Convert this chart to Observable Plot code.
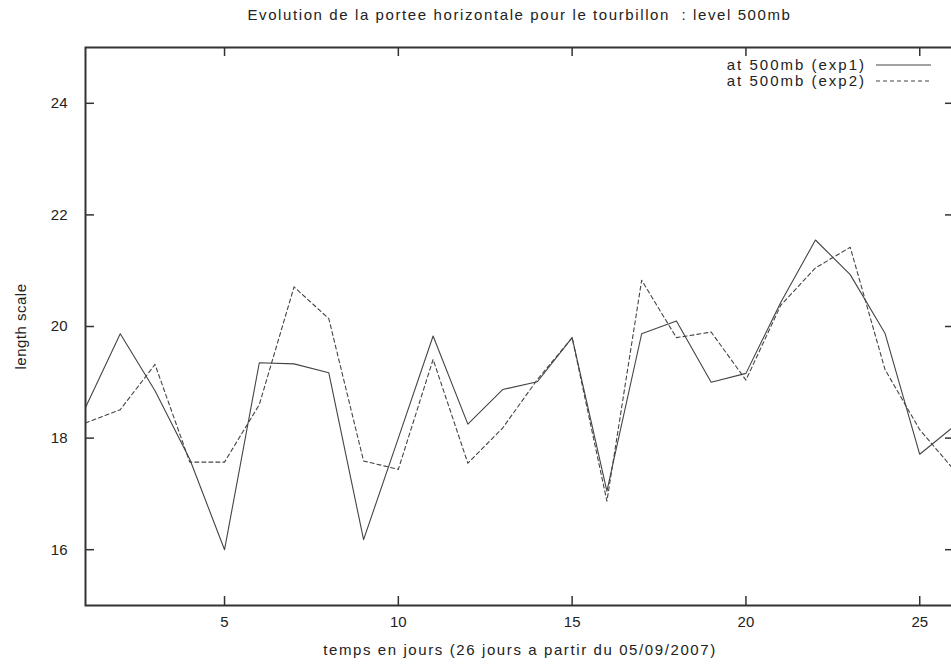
<!DOCTYPE html>
<html><head><meta charset="utf-8">
<script src="https://cdn.jsdelivr.net/npm/d3@7"></script>
<script src="https://cdn.jsdelivr.net/npm/@observablehq/plot@0.6"></script>
<style>
body{margin:0;background:#fff;overflow:hidden;font-family:"Liberation Sans",Arial,sans-serif;}
#wrap{position:relative;width:956px;height:666px;}
#title{box-sizing:border-box;width:956px;height:30px;line-height:30px;padding-left:85px;padding-right:2px;text-align:center;font-size:15px;letter-spacing:1.6px;color:#222;white-space:pre;}
#legend{position:absolute;left:0;top:0;width:956px;height:666px;pointer-events:none;}
.lg{position:absolute;font-size:15px;letter-spacing:2px;color:#222;white-space:nowrap;}
g[aria-label="x-axis label"] text{letter-spacing:1.6px;}
g[aria-label="y-axis label"] text{letter-spacing:0.5px;}
</style></head><body>
<div id="wrap">
<div id="title"></div>
<div id="chart"></div>
<div id="legend"></div>
</div>
<script>
const titleText = "Evolution de la portee horizontale pour le tourbillon  : level 500mb";
const xLabel = "temps en jours (26 jours a partir du 05/09/2007)";
const yLabel = "length scale";
const seriesNames = ["at 500mb (exp1)", "at 500mb (exp2)"];
const days = [1,2,3,4,5,6,7,8,9,10,11,12,13,14,15,16,17,18,19,20,21,22,23,24,25,26];
const exp1 = [18.55,19.87,18.85,17.62,16.0,19.35,19.33,19.17,16.18,18.0,19.83,18.25,18.87,19.01,19.80,17.05,19.87,20.1,19.0,19.16,20.43,21.55,20.93,19.88,17.71,18.22];
const exp2 = [18.27,18.51,19.32,17.57,17.57,18.6,20.71,20.14,17.59,17.44,19.41,17.55,18.18,19.05,19.80,16.87,20.83,19.80,19.90,19.04,20.38,21.05,21.42,19.23,18.15,17.42];
const xTicks = [5,10,15,20,25];
const yTicks = [16,18,20,22,24];

document.getElementById("title").textContent = titleText;

const rows = [];
days.forEach((d,i)=>{ rows.push({day:d, v:exp1[i], s:seriesNames[0]}); });
days.forEach((d,i)=>{ rows.push({day:d, v:exp2[i], s:seriesNames[1]}); });

const W = 956, H = 636, mL = 85, mR = 2, mT = 17, mB = 61;
const pw = W - mL - mR, ph = H - mT - mB, tk = 9;
const ink = "#333";

const chart = Plot.plot({
  width: W, height: H,
  marginLeft: mL, marginRight: mR, marginTop: mT, marginBottom: mB,
  style: {fontFamily: "'Liberation Sans', Arial, sans-serif", fontSize: "15px", color: "#222", background: "#fff"},
  x: {domain: [1, 26]},
  y: {domain: [15, 25]},
  marks: [
    Plot.axisX(xTicks, {tickSize: 0, tickPadding: 11, fontSize: 15, tickFormat: d => String(d), label: xLabel, labelAnchor: "center", labelOffset: 49, labelArrow: "none"}),
    Plot.axisY(yTicks, {tickSize: 0, tickPadding: 18, fontSize: 15, tickFormat: d => String(d), label: yLabel, labelAnchor: "center", labelOffset: 70, labelArrow: "none"}),
    Plot.tickX(xTicks, {x: d => d, insetTop: ph - tk, stroke: ink, strokeWidth: 1.5}),
    Plot.tickX(xTicks, {x: d => d, insetBottom: ph - tk, stroke: ink, strokeWidth: 1.5}),
    Plot.tickY(yTicks, {y: d => d, insetRight: pw - tk, stroke: ink, strokeWidth: 1.5}),
    Plot.tickY(yTicks, {y: d => d, insetLeft: pw - tk, stroke: ink, strokeWidth: 1.5}),
    Plot.line(rows.filter(r => r.s === seriesNames[0]), {x: "day", y: "v", stroke: "#444", strokeWidth: 1.1}),
    Plot.line(rows.filter(r => r.s === seriesNames[1]), {x: "day", y: "v", stroke: "#444", strokeWidth: 1.1, strokeDasharray: "4,3"}),
    Plot.frame({stroke: ink, strokeWidth: 2})
  ]
});
document.getElementById("chart").appendChild(chart);

// legend inside the frame, top-right
const lg = document.getElementById("legend");
const rowY = [65, 81];
seriesNames.forEach((name, i) => {
  const t = document.createElement("div");
  t.className = "lg";
  t.textContent = name;
  t.style.right = (956 - 866) + "px";
  t.style.top = (rowY[i] - 9) + "px";
  t.style.lineHeight = "18px";
  lg.appendChild(t);
  const s = document.createElementNS("http://www.w3.org/2000/svg", "svg");
  s.setAttribute("width", 56); s.setAttribute("height", 4);
  s.style.position = "absolute"; s.style.left = "876px"; s.style.top = (rowY[i] - 2) + "px";
  const ln = document.createElementNS("http://www.w3.org/2000/svg", "line");
  ln.setAttribute("x1", 0); ln.setAttribute("x2", 55); ln.setAttribute("y1", 2); ln.setAttribute("y2", 2);
  ln.setAttribute("stroke", "#444"); ln.setAttribute("stroke-width", 1.1);
  if (i === 1) ln.setAttribute("stroke-dasharray", "4,3");
  s.appendChild(ln);
  lg.appendChild(s);
});
</script>
</body></html>
